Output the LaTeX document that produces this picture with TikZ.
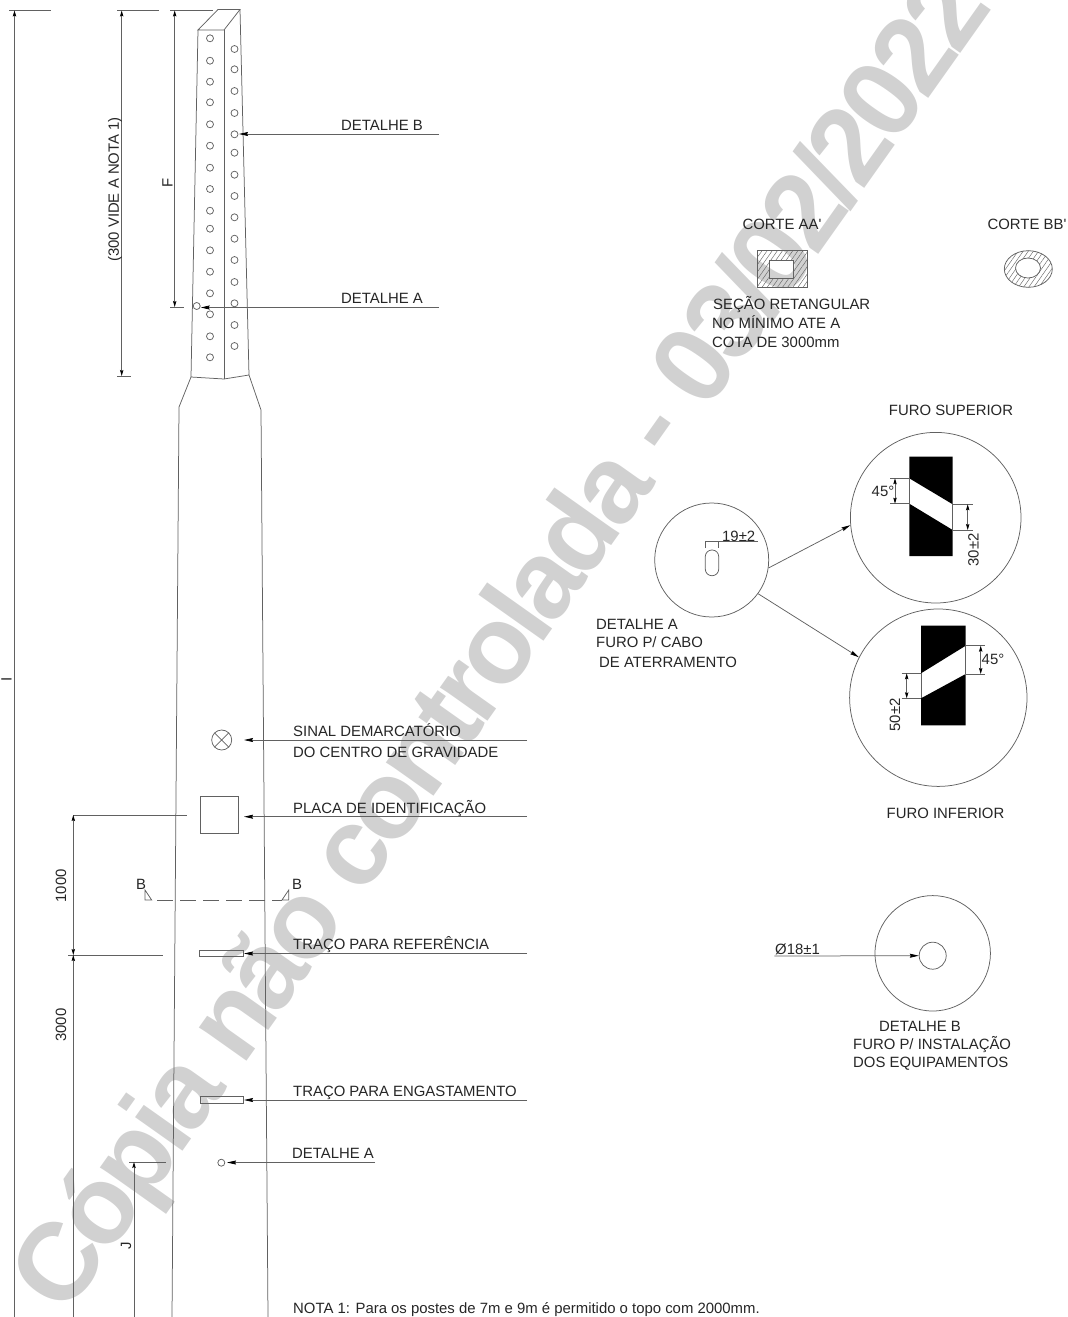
\documentclass[tikz,border=0pt]{standalone}
\usepackage{fontspec}
\setmainfont{Liberation Sans}
\newfontfamily\marcafont[LetterSpace=-5.4]{Liberation Sans}
\usetikzlibrary{arrows.meta,patterns.meta}
\definecolor{marca}{gray}{0.82}
\tikzset{
	linha/.style={line width=0.75pt, color=black!62},
	seta/.style={linha, -{Stealth[length=9pt,width=4pt,inset=1pt,color=black]}},
	cota/.style={linha, {Stealth[length=6pt,width=3.4pt,inset=1pt,color=black]}-{Stealth[length=6pt,width=3.4pt,inset=1pt,color=black]}},
	rotulo/.style={font=\fontsize{14.9}{16}\selectfont, color=black!85, inner sep=0pt, anchor=base west},
	vertical/.style={font=\fontsize{14.9}{16}\selectfont, color=black!85, inner sep=0pt, rotate=90},
	centrado/.style={rotulo, anchor=base},
	disco/.style={circle, draw=black!62, line width=0.75pt, inner sep=0pt},
	hachura/.style={linha, pattern={Lines[angle=55,distance=4.2pt,line width=0.45pt]}, pattern color=black!60, even odd rule}
}

\begin{document}
\begin{tikzpicture}[x=1pt, y=-1pt]
	\useasboundingbox (0, 0) rectangle (1068, 1317);
	\clip (0, 0) rectangle (1068, 1317);

	%%%%% MARCA D'AGUA %%%%%
	\node[rotate=54.7, anchor=base west, inner sep=0pt, color=marca, font=\fontsize{110}{110}\marcafont\bfseries] (marca) at (65, 1318) {Cópia não controlada - 03/02/2022};

	%%%%% POSTE %%%%%
	\draw[linha] (198, 30) -- (218, 9.5) -- (240, 9.5) -- (224, 30) -- cycle;
	\draw[linha] (198, 30) -- (191, 377) -- (224, 379) -- (249, 375) -- (240, 9.5);
	\draw[linha] (224, 30) -- (224, 379);
	\draw[linha] (191, 377) -- (179, 407) -- (172, 1317);
	\draw[linha] (249, 375) -- (261, 410) -- (268, 1317);

	\foreach \y in {38.3,60.7,81.7,102.3,124.3,145.7,167.7,189,210.7,228.7,250.3,271.7,293.3,314.3,336.3,357.3}
		\draw[linha] (210, \y) circle (3.5);
	\foreach \y in {49,69.3,91,113,134.3,152.7,174.7,196,217.3,238.7,260,282,303.3,325,346}
		\draw[linha] (234.5, \y) circle (3.5);
	\draw[linha] (196.7, 306) circle (3.5);

	%%%%% COTAS %%%%%
	\draw[linha] (9, 10.5) -- (51, 10.5);
	\draw[cota] (14.5, 10.5) -- (14.5, 1325);
	\node[vertical] (cotaI) at (6.5, 679.5) {I};

	\draw[linha] (117, 10.5) -- (159, 10.5);
	\draw[linha] (117, 376) -- (131, 376);
	\draw[cota] (121.7, 10.5) -- (121.7, 376);
	\node[vertical] (cotaTopo) at (115, 189.5) {(300 VIDE A NOTA 1)};

	\draw[linha] (170, 10.5) -- (213, 10.5);
	\draw[linha] (170, 307) -- (184, 307);
	\draw[cota] (174.7, 10.5) -- (174.7, 307);
	\node[vertical] (cotaF) at (167.5, 183) {F};

	\draw[linha] (73, 815) -- (186.7, 815);
	\draw[linha] (68, 955) -- (163, 955);
	\draw[cota] (73.3, 815) -- (73.3, 955);
	\draw[cota] (73.3, 955) -- (73.3, 1325);
	\node[vertical] (cotaMil) at (61, 885.7) {1000};
	\node[vertical] (cotaTres) at (61, 1025) {3000};

	\draw[linha] (129, 1162) -- (166, 1162);
	\draw[cota] (134, 1162) -- (134, 1325);
	\node[vertical] (cotaJ) at (126, 1246) {J};

	%%%%% CHAMADAS %%%%%
	\node[rotulo] (detB) at (341, 130) {DETALHE B};
	\draw[seta] (439, 134) -- (239, 134);
	\node[rotulo] (detA) at (341, 303.5) {DETALHE A};
	\draw[seta] (439, 307.5) -- (200.7, 307.5);

	\draw[linha] (221.7, 740) circle (10);
	\draw[linha] (214.6, 732.9) -- (228.8, 747.1) (214.6, 747.1) -- (228.8, 732.9);
	\draw[seta] (527, 740) -- (244, 740);
	\node[rotulo] (sinal) at (293, 736.5) {SINAL DEMARCATÓRIO};
	\node[rotulo] (centro) at (293, 757.5) {DO CENTRO DE GRAVIDADE};

	\draw[linha] (200.7, 796.3) rectangle (238.3, 833.7);
	\draw[seta] (527, 816.7) -- (244, 816.7);
	\node[rotulo] (placa) at (293, 813.5) {PLACA DE IDENTIFICAÇÃO};

	\draw[linha] (145, 890) -- (145, 900) -- (151.7, 900) -- cycle;
	\draw[linha] (288.7, 890) -- (288.7, 900) -- (282, 900) -- cycle;
	\draw[linha, dash pattern=on 16pt off 7pt] (157, 900) -- (282, 900);
	\node[centrado] (corteEsq) at (141, 889) {B};
	\node[centrado] (corteDir) at (297, 889) {B};

	\draw[linha] (199.3, 950.7) rectangle (243.3, 956.7);
	\draw[seta] (527, 953.5) -- (244, 953.5);
	\node[rotulo] (referencia) at (293, 949.5) {TRAÇO PARA REFERÊNCIA};

	\draw[linha] (200, 1096.3) rectangle (243.5, 1103.7);
	\draw[seta] (527, 1100) -- (244, 1100);
	\node[rotulo] (engaste) at (293, 1096.5) {TRAÇO PARA ENGASTAMENTO};

	\draw[linha] (221.3, 1162.7) circle (3.5);
	\draw[seta] (375, 1162.5) -- (227, 1162.5);
	\node[rotulo] (detABaixo) at (292, 1158.5) {DETALHE A};

	\node[rotulo] (nota) at (293, 1313.5) {NOTA 1: Para os postes de 7m e 9m é permitido o topo com 2000mm.};

	%%%%% CORTES %%%%%
	\node[centrado] (corteAA) at (782, 229.5) {CORTE AA\textquotesingle};
	\node[centrado] (corteBB) at (1027, 229.5) {CORTE BB\textquotesingle};
	\draw[hachura] (757.3, 250) rectangle (807.3, 287.3) (769.3, 260.7) rectangle (793.3, 278);
	\draw[hachura] (1028.3, 269) ellipse (24 and 18.3) (1028, 268) ellipse (12.5 and 10);
	\node[rotulo] (secaoA) at (713, 309.5) {SEÇÃO RETANGULAR};
	\node[rotulo] (secaoB) at (712, 328.5) {NO MÍNIMO ATE A};
	\node[rotulo] (secaoC) at (712, 347.5) {COTA DE 3000mm};

	%%%%% DETALHE A %%%%%
	\node[disco, minimum size=114pt] (circA) at (711.7, 560) {};
	\node[disco, minimum size=170.6pt] (circSup) at (935.7, 517.7) {};
	\node[disco, minimum size=177.4pt] (circInf) at (938.3, 697.7) {};
	\draw[seta] (circA.-8) -- (circSup.185);
	\draw[seta] (circA.-36) -- (circInf.153);

	\draw[linha, rounded corners=6.5pt] (705.3, 550) rectangle (718.7, 575.7);
	\draw[linha] (705.3, 548) -- (705.3, 541.7) -- (758, 541.7);
	\draw[linha] (718, 541.7) -- (718, 548);
	\node[rotulo] (furoA) at (722, 541) {19±2};
	\node[rotulo] (legA) at (596, 629.5) {DETALHE A};
	\node[rotulo] (legB) at (596, 647.5) {FURO P/ CABO};
	\node[rotulo] (legC) at (599, 667.5) {DE ATERRAMENTO};

	\fill[black] (909.3, 456.7) -- (952.7, 456.7) -- (952.7, 504.3) -- (909.3, 478.3) -- cycle;
	\fill[black] (909.3, 503.7) -- (952.7, 530) -- (952.7, 556) -- (909.3, 556) -- cycle;
	\draw[linha] (909.3, 478.3) -- (909.3, 503.7) (952.7, 504.3) -- (952.7, 530);
	\draw[linha] (890, 478.3) -- (909.3, 478.3) (890, 503.7) -- (909.3, 503.7);
	\draw[cota] (895, 478.3) -- (895, 503.7);
	\draw[linha] (952.7, 504.3) -- (972.7, 504.3) (952.7, 530) -- (972.7, 530);
	\draw[cota] (967.7, 504.3) -- (967.7, 530);
	\node[centrado] (angSup) at (883, 496.5) {45°};
	\node[vertical] (cotaSup) at (973.5, 550) {30±2};
	\node[centrado] (tituloSup) at (951, 415.5) {FURO SUPERIOR};

	\fill[black] (921, 625.7) -- (965.7, 625.7) -- (965.7, 645.7) -- (921, 673.3) -- cycle;
	\fill[black] (921, 698.3) -- (965.7, 674) -- (965.7, 725.3) -- (921, 725.3) -- cycle;
	\draw[linha] (921, 673.3) -- (921, 698.3) (965.7, 645.7) -- (965.7, 674);
	\draw[linha] (965.7, 645.7) -- (985, 645.7) (965.7, 674) -- (985, 674);
	\draw[cota] (980.7, 645.7) -- (980.7, 674);
	\draw[linha] (901.7, 673.3) -- (921, 673.3) (901.7, 698.3) -- (921, 698.3);
	\draw[cota] (906.7, 673.3) -- (906.7, 698.3);
	\node[centrado] (angInf) at (993, 664.5) {45°};
	\node[vertical] (cotaInf) at (895, 715) {50±2};
	\node[centrado] (tituloInf) at (945.5, 818.5) {FURO INFERIOR};

	%%%%% DETALHE B %%%%%
	\node[disco, minimum size=115.4pt] (circB) at (932.7, 953.3) {};
	\node[disco, minimum size=27pt] (circFuro) at (932.7, 955.7) {};
	\coordinate (inicioB) at (774.3, 956);
	\draw[seta] (inicioB) -- (circFuro.west);
	\node[rotulo] (furoB) at (775, 954) {Ø18±1};
	\node[centrado] (legD) at (920, 1031.5) {DETALHE B};
	\node[rotulo] (legE) at (853, 1049.5) {FURO P/ INSTALAÇÃO};
	\node[rotulo] (legF) at (853, 1067.5) {DOS EQUIPAMENTOS};
\end{tikzpicture}
\end{document}
